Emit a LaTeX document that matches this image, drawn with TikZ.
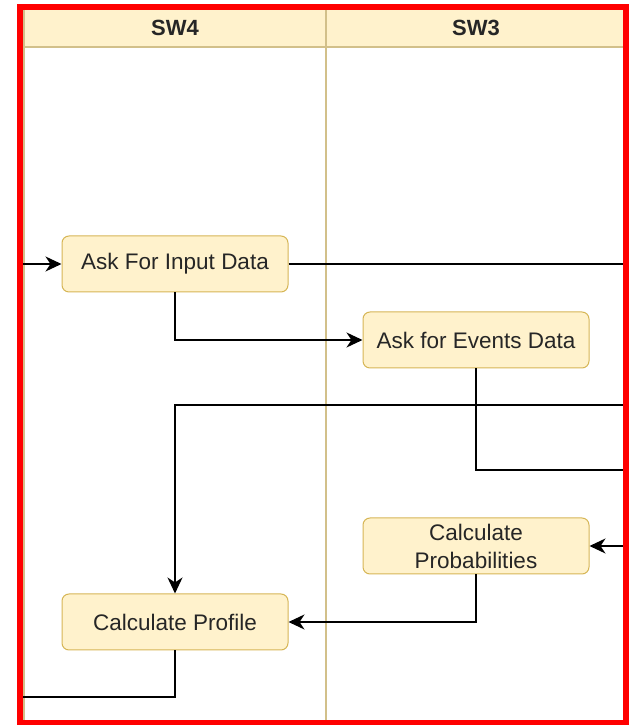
\documentclass[tikz,border=0pt]{standalone}
\usepackage{fontspec}
\setmainfont{Liberation Sans}
\usetikzlibrary{arrows.meta,positioning}

\definecolor{laneFill}{HTML}{FFF2CC}
\definecolor{laneLine}{HTML}{D6B656}
\definecolor{poolLine}{HTML}{D2C08A}

\begin{document}
\begin{tikzpicture}[x=1pt, y=1pt, line width=1.5pt, >={Stealth[length=16pt,width=15pt,inset=5pt]}]
	
	\useasboundingbox (0,0) rectangle (633,725);
	
	\tikzstyle{task}=[draw=laneLine, line width=1pt, fill=laneFill, rounded corners=7pt, minimum width=226pt, minimum height=56pt, align=center, font=\fontsize{22.5}{28}\selectfont, text=black!85, inner sep=0pt]
	\tikzstyle{lane}=[draw=poolLine, line width=1.2pt]
	
	% pool and lanes
	\fill[laneFill] (23,715) rectangle (626,678);
	\draw[lane] (23,678) -- (626,678);
	\draw[lane] (24,715) -- (24,2);
	\draw[lane] (326,715) -- (326,2);
	\node[font=\bfseries\fontsize{22}{24}\selectfont, text=black!85] (sw4) at (175,697) {SW4};
	\node[font=\bfseries\fontsize{22}{24}\selectfont, text=black!85] (sw3) at (476,697) {SW3};
	
	% tasks
	\node[task] (input) at (175,461) {Ask For Input Data};
	\node[task] (events) at (476,385) {Ask for Events Data};
	\node[task] (prob) at (476,179) {Calculate\\Probabilities};
	\node[task] (profile) at (175,103) {Calculate Profile};
	
	% free ends at the border
	\coordinate (inLeft) at (20,461);
	\coordinate (inRight) at (626,461);
	\coordinate (backRight) at (626,320);
	\coordinate (evRight) at (626,255);
	\coordinate (probRight) at (626,179);
	\coordinate (outLeft) at (20,28);
	
	\draw[->] (inLeft) -- (input.west);
	\draw (input.east) -- (inRight);
	\draw[->] (input.south) |- (events.west);
	\draw[->] (backRight) -| (profile.north);
	\draw (events.south) |- (evRight);
	\draw[->] (probRight) -- (prob.east);
	\draw[->] (prob.south) |- (profile.east);
	\draw (profile.south) |- (outLeft);
	
	% frame
	\draw[red, line width=6pt] (20,717.5) rectangle (626,2);
	
\end{tikzpicture}
\end{document}
